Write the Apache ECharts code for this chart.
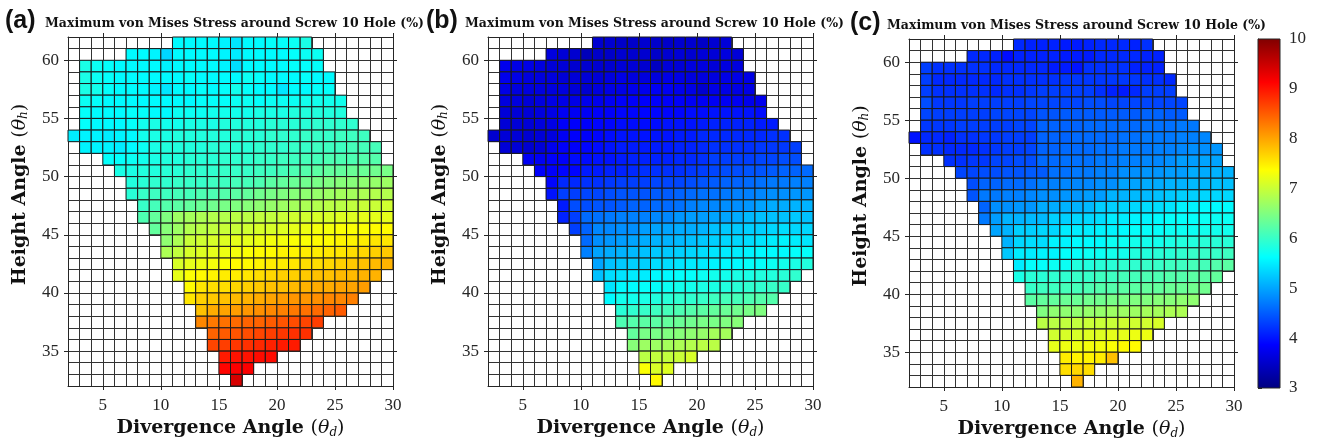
<!DOCTYPE html>
<html><head><meta charset="utf-8">
<script src="https://cdn.jsdelivr.net/npm/echarts@6/dist/echarts.min.js"></script>
<style>html,body{margin:0;padding:0;background:#fff}#c{width:1317px;height:439px}</style>
</head><body><div id="c"></div><script>
// lower edge (theta_h) of each row of cells, and left edge (theta_d) of the first cell in the row
const rowY  = [61,60,59,58,57,56,55,54,53,52,51,50,49,48,47,46,45,44,43,42,41,40,39,38,37,36,35,34,33,32];
const rowX0 = [11, 7, 3, 3, 3, 3, 3, 3, 2, 3, 5, 6, 7, 7, 8, 8, 9,10,10,11,11,12,12,13,13,14,14,15,15,16];

const stressA = [
[5.6,5.6,5.6,5.6,5.55,5.45,5.6,5.6,5.65,5.65,5.7,5.8],
[5.6,5.6,5.55,5.35,5.6,5.6,5.6,5.6,5.55,5.5,5.6,5.6,5.6,5.6,5.65,5.7,5.7],
[5.8,5.7,5.65,5.6,5.6,5.6,5.6,5.55,5.6,5.6,5.6,5.6,5.55,5.4,5.6,5.6,5.6,5.6,5.65,5.65,5.65],
[5.8,5.7,5.65,5.6,5.6,5.6,5.6,5.6,5.6,5.65,5.6,5.6,5.6,5.6,5.7,5.65,5.6,5.6,5.6,5.65,5.6,5.6],
[5.8,5.75,5.65,5.6,5.6,5.6,5.55,5.45,5.6,5.6,5.65,5.6,5.65,5.75,5.65,5.6,5.6,5.45,5.6,5.6,5.65,5.65],
[5.7,5.65,5.6,5.6,5.6,5.6,5.6,5.6,5.6,5.6,5.65,5.65,5.65,5.7,5.7,5.65,5.7,5.7,5.7,5.75,5.75,5.75,5.75],
[5.65,5.6,5.6,5.6,5.65,5.65,5.6,5.6,5.7,5.7,5.7,5.75,5.75,5.75,5.75,5.8,5.8,5.8,5.85,5.85,5.85,5.85,5.85],
[5.65,5.6,5.6,5.6,5.65,5.75,5.8,5.75,5.75,5.8,5.8,5.8,5.85,5.85,5.85,5.85,5.9,5.9,5.9,5.9,5.95,5.95,5.95,5.95],
[5.5,5.55,5.55,5.5,5.55,5.6,5.75,5.8,5.8,5.85,5.85,5.85,5.85,5.85,5.9,5.9,5.9,5.95,5.95,5.95,6.0,6.0,6.0,6.05,6.05,6.05],
[5.55,5.55,5.55,5.5,5.6,5.7,5.8,5.85,5.85,5.85,5.85,5.9,5.9,5.9,5.9,5.95,5.95,5.95,6.0,6.0,6.05,6.05,6.05,6.1,6.1,6.1],
[5.65,5.65,5.7,5.75,5.8,5.85,5.85,5.9,5.9,5.9,5.95,5.95,5.95,6.0,6.0,6.05,6.05,6.1,6.1,6.15,6.15,6.15,6.2,6.2],
[5.8,5.8,5.85,5.85,5.9,5.9,5.95,5.95,5.95,6.0,6.0,6.0,6.05,6.05,6.1,6.15,6.2,6.25,6.3,6.3,6.35,6.35,6.4,6.45],
[5.85,5.9,5.95,5.95,6.0,6.0,6.0,6.05,6.05,6.1,6.1,6.15,6.25,6.3,6.35,6.4,6.45,6.5,6.55,6.55,6.6,6.65,6.7],
[5.9,6.0,6.05,6.05,6.1,6.1,6.15,6.15,6.2,6.25,6.3,6.4,6.45,6.5,6.55,6.6,6.65,6.7,6.75,6.75,6.8,6.85,6.85],
[6.0,6.1,6.2,6.25,6.3,6.35,6.4,6.45,6.5,6.55,6.6,6.65,6.7,6.75,6.8,6.85,6.9,6.9,6.95,7.0,7.0,7.05],
[6.15,6.3,6.5,6.7,6.75,6.8,6.85,6.85,6.9,6.9,6.95,6.95,7.0,7.05,7.05,7.1,7.1,7.15,7.15,7.2,7.2,7.2],
[6.3,6.55,6.7,6.85,6.9,6.95,7.0,7.0,7.05,7.1,7.1,7.15,7.2,7.25,7.3,7.3,7.35,7.35,7.35,7.4,7.4],
[6.6,6.8,7.0,7.05,7.1,7.15,7.2,7.2,7.25,7.3,7.3,7.35,7.35,7.4,7.4,7.45,7.45,7.5,7.55,7.55],
[6.8,6.95,7.1,7.15,7.2,7.25,7.3,7.35,7.4,7.4,7.45,7.45,7.5,7.5,7.55,7.55,7.6,7.65,7.7,7.75],
[7.1,7.2,7.25,7.3,7.35,7.4,7.4,7.45,7.5,7.5,7.55,7.6,7.6,7.65,7.7,7.75,7.8,7.85,7.9],
[7.2,7.35,7.4,7.45,7.5,7.5,7.55,7.6,7.65,7.7,7.7,7.75,7.8,7.8,7.85,7.85,7.9,7.9],
[7.4,7.55,7.6,7.6,7.65,7.7,7.75,7.8,7.8,7.85,7.9,7.95,7.95,8.0,8.0,8.05],
[7.55,7.7,7.75,7.8,7.85,7.9,7.95,8.0,8.05,8.1,8.1,8.15,8.2,8.2,8.25],
[7.8,7.95,8.0,8.05,8.1,8.15,8.2,8.25,8.3,8.35,8.4,8.45,8.5],
[8.2,8.3,8.35,8.4,8.45,8.45,8.5,8.55,8.6,8.65,8.7],
[8.45,8.5,8.55,8.6,8.65,8.7,8.75,8.8,8.8],
[8.65,8.7,8.75,8.8,8.85,8.9,8.95,8.95],
[8.95,9.0,9.0,9.05,9.05],
[9.1,9.15,9.15],
[9.4]
];

const stressB = [
[3.55,3.55,3.5,3.5,3.55,3.5,3.5,3.55,3.55,3.5,3.55,3.6],
[3.65,3.6,3.55,3.4,3.5,3.5,3.55,3.55,3.55,3.5,3.55,3.6,3.55,3.6,3.6,3.65,3.6],
[3.75,3.7,3.7,3.65,3.6,3.6,3.55,3.55,3.55,3.55,3.6,3.6,3.55,3.45,3.6,3.6,3.65,3.65,3.6,3.65,3.65],
[3.75,3.7,3.65,3.65,3.65,3.6,3.6,3.6,3.6,3.65,3.7,3.65,3.65,3.65,3.7,3.7,3.65,3.65,3.65,3.7,3.7,3.7],
[3.7,3.65,3.65,3.65,3.65,3.65,3.6,3.55,3.65,3.7,3.7,3.75,3.75,3.8,3.8,3.75,3.7,3.55,3.7,3.7,3.7,3.7],
[3.65,3.65,3.6,3.65,3.7,3.7,3.7,3.75,3.75,3.8,3.85,3.85,3.85,3.85,3.85,3.85,3.8,3.8,3.8,3.8,3.8,3.75,3.75],
[3.6,3.6,3.6,3.65,3.7,3.8,3.8,3.8,3.85,3.85,3.9,3.9,3.9,3.9,3.9,3.9,3.95,3.95,4.0,4.0,4.0,4.0,3.95],
[3.6,3.6,3.6,3.65,3.7,3.85,3.85,3.85,3.9,3.9,3.95,3.95,3.95,3.95,4.0,4.0,4.0,4.05,4.1,4.1,4.1,4.1,4.05,4.05],
[3.55,3.6,3.6,3.55,3.6,3.65,3.8,3.85,3.85,3.9,3.95,4.0,4.0,4.0,4.0,4.0,4.05,4.05,4.15,4.15,4.15,4.15,4.15,4.15,4.2,4.2],
[3.6,3.6,3.55,3.6,3.75,3.85,3.85,3.9,3.95,4.0,4.05,4.05,4.05,4.05,4.05,4.1,4.1,4.15,4.2,4.2,4.2,4.2,4.25,4.25,4.25,4.3],
[3.8,3.8,3.85,3.85,3.95,3.95,4.0,4.0,4.05,4.1,4.1,4.1,4.1,4.15,4.15,4.2,4.3,4.3,4.3,4.3,4.35,4.35,4.4,4.4],
[3.85,3.85,3.9,3.9,4.05,4.05,4.1,4.1,4.15,4.2,4.2,4.2,4.2,4.25,4.3,4.35,4.4,4.4,4.45,4.45,4.5,4.55,4.55,4.6],
[3.9,4.15,4.15,4.2,4.2,4.25,4.3,4.3,4.3,4.35,4.35,4.35,4.4,4.45,4.5,4.55,4.55,4.6,4.65,4.7,4.7,4.75,4.75],
[4.0,4.3,4.3,4.35,4.35,4.4,4.45,4.45,4.45,4.5,4.5,4.55,4.6,4.65,4.65,4.7,4.75,4.75,4.8,4.85,4.85,4.9,4.9],
[4.05,4.4,4.4,4.45,4.45,4.5,4.55,4.55,4.6,4.6,4.65,4.75,4.8,4.8,4.85,4.85,4.9,5.0,5.05,5.05,5.1,5.1],
[4.1,4.3,4.6,4.65,4.7,4.75,4.75,4.75,4.8,4.8,4.9,4.95,4.95,5.0,5.0,5.05,5.15,5.2,5.2,5.2,5.25,5.2],
[4.3,4.55,4.8,4.8,4.85,4.85,4.95,5.0,5.0,5.05,5.05,5.1,5.2,5.25,5.25,5.3,5.3,5.35,5.4,5.35,5.35],
[4.6,4.85,4.9,4.95,5.0,5.05,5.1,5.1,5.15,5.2,5.25,5.3,5.35,5.35,5.4,5.45,5.5,5.55,5.5,5.45],
[4.75,5.0,5.05,5.1,5.15,5.2,5.25,5.25,5.3,5.35,5.4,5.45,5.5,5.5,5.55,5.6,5.6,5.6,5.65,5.65],
[5.0,5.2,5.25,5.3,5.3,5.4,5.4,5.45,5.5,5.5,5.55,5.6,5.6,5.65,5.65,5.7,5.75,5.8,5.85],
[5.2,5.4,5.45,5.5,5.5,5.6,5.6,5.65,5.65,5.7,5.75,5.75,5.8,5.8,5.85,5.85,5.9,5.95],
[5.45,5.6,5.6,5.65,5.65,5.7,5.75,5.75,5.8,5.8,5.85,5.9,5.95,5.95,6.0,6.0],
[5.6,5.75,5.75,5.8,5.85,5.9,5.95,5.95,6.0,6.05,6.1,6.1,6.15,6.2,6.2],
[5.9,5.95,6.0,6.05,6.1,6.15,6.2,6.25,6.3,6.35,6.4,6.45,6.5],
[6.15,6.2,6.25,6.25,6.3,6.35,6.4,6.45,6.45,6.5,6.55],
[6.3,6.45,6.45,6.5,6.55,6.6,6.65,6.75,6.75],
[6.55,6.7,6.7,6.75,6.8,6.85,6.9,6.9],
[6.9,6.95,6.95,7.0,7.1],
[7.35,7.1,7.15],
[7.4]
];

const stressC = [
[4.15,4.1,4.1,4.1,4.05,4.05,4.1,4.15,4.15,4.15,4.1,4.2],
[4.15,4.15,4.1,3.95,4.1,4.1,4.1,4.1,4.05,4.05,4.05,4.15,4.15,4.15,4.15,4.1,4.1],
[4.3,4.2,4.2,4.2,4.2,4.2,4.15,4.15,4.15,4.15,4.15,4.05,4.05,4.0,4.2,4.2,4.2,4.2,4.1,4.1,4.1],
[4.3,4.15,4.15,4.15,4.15,4.15,4.15,4.2,4.2,4.2,4.2,4.2,4.25,4.25,4.25,4.25,4.25,4.25,4.25,4.2,4.2,4.15],
[4.3,4.2,4.2,4.2,4.2,4.2,4.15,4.2,4.2,4.25,4.3,4.3,4.3,4.3,4.3,4.2,4.1,4.05,4.15,4.3,4.3,4.3],
[4.4,4.25,4.25,4.25,4.3,4.3,4.3,4.3,4.3,4.35,4.35,4.35,4.35,4.35,4.4,4.4,4.35,4.35,4.35,4.35,4.35,4.35,4.35],
[4.35,4.3,4.3,4.3,4.3,4.3,4.35,4.35,4.35,4.35,4.45,4.45,4.5,4.5,4.5,4.5,4.5,4.5,4.5,4.55,4.55,4.5,4.5],
[4.25,4.25,4.25,4.3,4.3,4.3,4.3,4.3,4.35,4.35,4.55,4.55,4.55,4.55,4.6,4.6,4.6,4.6,4.6,4.65,4.65,4.65,4.7,4.7],
[4.0,4.15,4.15,4.1,4.2,4.2,4.25,4.25,4.3,4.3,4.3,4.55,4.55,4.55,4.6,4.6,4.6,4.6,4.65,4.65,4.7,4.7,4.7,4.75,4.75,4.8],
[4.2,4.2,4.15,4.15,4.15,4.2,4.25,4.3,4.3,4.35,4.55,4.55,4.6,4.6,4.6,4.65,4.65,4.7,4.7,4.7,4.75,4.75,4.8,4.85,4.85,4.9],
[4.2,4.2,4.25,4.25,4.35,4.35,4.4,4.4,4.6,4.6,4.65,4.65,4.65,4.7,4.7,4.75,4.75,4.8,4.8,4.85,4.95,4.95,5.0,5.0],
[4.35,4.35,4.4,4.4,4.45,4.45,4.5,4.5,4.65,4.65,4.7,4.7,4.75,4.75,4.85,4.85,4.9,4.9,4.95,4.95,5.05,5.05,5.1,5.1],
[4.4,4.55,4.55,4.6,4.6,4.65,4.75,4.75,4.8,4.8,4.8,4.85,4.85,5.0,5.0,5.05,5.05,5.1,5.1,5.15,5.15,5.2,5.2],
[4.45,4.7,4.7,4.75,4.75,4.8,4.85,4.85,4.9,4.9,4.95,4.95,5.1,5.1,5.15,5.15,5.2,5.25,5.3,5.3,5.35,5.35,5.35],
[4.55,4.85,4.85,4.9,4.9,5.05,5.05,5.1,5.1,5.15,5.3,5.3,5.35,5.35,5.4,5.4,5.45,5.55,5.55,5.6,5.6,5.6],
[4.7,4.95,5.1,5.1,5.15,5.15,5.3,5.3,5.35,5.35,5.4,5.5,5.5,5.55,5.55,5.6,5.65,5.65,5.65,5.7,5.7,5.7],
[5.0,5.1,5.3,5.3,5.35,5.35,5.5,5.5,5.5,5.55,5.55,5.6,5.65,5.65,5.65,5.7,5.7,5.7,5.75,5.75,5.75],
[5.1,5.35,5.4,5.4,5.55,5.55,5.6,5.6,5.6,5.7,5.7,5.75,5.75,5.75,5.8,5.85,5.85,5.9,5.9,5.9],
[5.25,5.5,5.5,5.55,5.55,5.65,5.65,5.7,5.7,5.75,5.75,5.85,5.85,5.9,5.9,5.95,6.0,6.0,6.0,6.05],
[5.5,5.65,5.65,5.7,5.7,5.85,5.85,5.9,5.9,5.95,5.95,6.0,6.0,6.05,6.05,6.1,6.1,6.2,6.25],
[5.8,5.9,5.9,5.95,5.95,6.0,6.0,6.05,6.05,6.1,6.1,6.15,6.15,6.2,6.2,6.25,6.25,6.3],
[6.0,6.05,6.05,6.1,6.1,6.15,6.2,6.2,6.25,6.25,6.3,6.3,6.35,6.35,6.4,6.4],
[6.25,6.3,6.3,6.35,6.35,6.4,6.4,6.45,6.45,6.5,6.5,6.55,6.55,6.6,6.6],
[6.5,6.6,6.6,6.6,6.65,6.65,6.7,6.7,6.7,6.75,6.75,6.8,6.8],
[6.9,6.9,6.95,6.95,7.0,7.0,7.0,7.05,7.05,7.05,7.1],
[7.05,7.1,7.1,7.15,7.15,7.2,7.2,7.25,7.25],
[7.2,7.25,7.25,7.3,7.3,7.35,7.4,7.4],
[7.5,7.45,7.45,7.5,7.8],
[7.6,7.65,7.6],
[7.9]
];

const xTicks = [5,10,15,20,25,30];
const yTicks = [35,40,45,50,55,60];
const cbTicks = [3,4,5,6,7,8,9,10];
const colorbarData = [[0, 3, 10]];
const panelLetters = ['(a)','(b)','(c)'];
const panelTitle = 'Maximum von Mises Stress around Screw 10 Hole (%)';
const jet = ['#000080','#0000ff','#0080ff','#00ffff','#80ff80','#ffff00','#ff8000','#ff0000','#800000'];

function toCells(rows){
  const out=[];
  rows.forEach((vals,i)=>vals.forEach((v,k)=>out.push([rowX0[i]+k, rowY[i], v])));
  return out;
}
const panels = [stressA, stressB, stressC].map(toCells);

const grids = [
  {left:68, top:37, width:325, height:349, outerBoundsMode:'none', containLabel:false},
  {left:488, top:37, width:325, height:349, outerBoundsMode:'none', containLabel:false},
  {left:909, top:39, width:325, height:348, outerBoundsMode:'none', containLabel:false},
  {left:1258, top:39, width:22, height:349, outerBoundsMode:'none', containLabel:false}
];
const tickFont = {fontFamily:'Liberation Serif', fontSize:17, color:'#262626'};
const lineCol = '#262626';
const nameRich = {
  t:{fontFamily:'DejaVu Serif', fontStyle:'italic', fontWeight:'normal', fontSize:19, color:'#111'},
  p:{fontFamily:'DejaVu Serif', fontWeight:'normal', fontSize:19, color:'#111'},
  s:{fontFamily:'DejaVu Serif', fontStyle:'italic', fontWeight:'normal', fontSize:12, color:'#111', padding:[8,0,0,0]}
};
const nameStyleX = {fontFamily:'DejaVu Serif', fontWeight:'bold', fontSize:19, color:'#111', rich:nameRich};
const nameStyleY = {fontFamily:'DejaVu Serif', fontWeight:'bold', fontSize:19, color:'#111', rich:nameRich, padding:[0,0,0,34]};

const xAxes=[], yAxes=[], series=[], titles=[];
const letterLeft=[0,421,845], titleLeft=[40,460,882], titleTop=[12,12,14], letterTop=[4,4,6];
for(let p=0;p<3;p++){
  xAxes.push({type:'value', gridIndex:p, min:2, max:30, interval:1, position:'bottom',
    axisLine:{show:false}, axisTick:{show:false}, axisLabel:{show:false},
    splitLine:{show:true, lineStyle:{color:'#333', width:1}}});
  xAxes.push({type:'value', gridIndex:p, min:2, max:30, position:'bottom',
    axisLine:{show:true, onZero:false, lineStyle:{color:lineCol, width:1}},
    axisTick:{show:true, customValues:xTicks, length:4, lineStyle:{color:lineCol}},
    axisLabel:Object.assign({customValues:xTicks, margin:11}, tickFont),
    splitLine:{show:false},
    name:'Divergence Angle {p|(}{t|θ}{s|d}{p|)}', nameLocation:'middle', nameGap:27, nameTextStyle:nameStyleX});
  xAxes.push({type:'value', gridIndex:p, min:2, max:30, position:'top',
    axisLine:{show:true, onZero:false, lineStyle:{color:lineCol, width:1}},
    axisTick:{show:true, customValues:xTicks, length:4, lineStyle:{color:lineCol}},
    axisLabel:{show:false}, splitLine:{show:false}});
  yAxes.push({type:'value', gridIndex:p, min:32, max:62, interval:1, position:'left',
    axisLine:{show:false}, axisTick:{show:false}, axisLabel:{show:false},
    splitLine:{show:true, lineStyle:{color:'#333', width:1}}});
  yAxes.push({type:'value', gridIndex:p, min:32, max:62, position:'left',
    axisLine:{show:true, onZero:false, lineStyle:{color:lineCol, width:1}},
    axisTick:{show:true, customValues:yTicks, length:4, lineStyle:{color:lineCol}},
    axisLabel:Object.assign({customValues:yTicks, margin:9}, tickFont),
    splitLine:{show:false},
    name:'Height Angle {p|(}{t|θ}{s|h}{p|)}', nameLocation:'middle', nameGap:38, nameRotate:90, nameTextStyle:nameStyleY});
  yAxes.push({type:'value', gridIndex:p, min:32, max:62, position:'right',
    axisLine:{show:true, onZero:false, lineStyle:{color:lineCol, width:1}},
    axisTick:{show:true, customValues:yTicks, length:4, lineStyle:{color:lineCol}},
    axisLabel:{show:false}, splitLine:{show:false}});
  series.push({type:'custom', xAxisIndex:3*p, yAxisIndex:3*p, data:panels[p],
    encode:{x:0, y:1}, dimensions:['d','h','stress'],
    renderItem:function(params, api){
      const x=api.value(0), y=api.value(1);
      const a=api.coord([x, y+1]), b=api.coord([x+1, y]);
      return {type:'rect', shape:{x:a[0], y:a[1], width:b[0]-a[0], height:b[1]-a[1]},
        style:{fill:api.visual('color'), stroke:'#1a1a1a', lineWidth:1}};
    }});
  titles.push({text:panelLetters[p], left:letterLeft[p], top:letterTop[p],
    textStyle:{fontFamily:'Liberation Sans', fontWeight:'bold', fontSize:25, color:'#111'}});
  titles.push({text:panelTitle, left:titleLeft[p], top:titleTop[p],
    textStyle:{fontFamily:'DejaVu Serif', fontWeight:'bold', fontSize:12.5, color:'#111'}});
}
// colorbar
xAxes.push({type:'value', gridIndex:3, min:0, max:1, show:false});
yAxes.push({type:'value', gridIndex:3, min:3, max:10, interval:1, position:'right',
  axisLine:{show:true, lineStyle:{color:lineCol, width:1}},
  axisTick:{show:true, length:4, lineStyle:{color:lineCol}},
  axisLabel:Object.assign({margin:9}, tickFont), splitLine:{show:false}});
const cbStops = jet.slice().reverse().map((c,i,arr)=>({offset:i/(arr.length-1), color:c}));
series.push({type:'custom', xAxisIndex:9, yAxisIndex:9, data:colorbarData, encode:{x:0, y:[1,2]},
  renderItem:function(params, api){
    const a=api.coord([0, api.value(2)]), b=api.coord([1, api.value(1)]);
    return {type:'rect', shape:{x:a[0], y:a[1], width:b[0]-a[0], height:b[1]-a[1]},
      style:{fill:new echarts.graphic.LinearGradient(0,0,0,1,cbStops), stroke:lineCol, lineWidth:1}};
  }});

const chart = echarts.init(document.getElementById('c'), null, {renderer:'canvas'});
chart.setOption({
  backgroundColor:'#ffffff',
  animation:false,
  title:titles,
  grid:grids,
  xAxis:xAxes,
  yAxis:yAxes,
  visualMap:{type:'continuous', show:false, min:3, max:10, dimension:2, seriesIndex:[0,1,2],
    inRange:{color:jet}},
  series:series
});
</script></body></html>
